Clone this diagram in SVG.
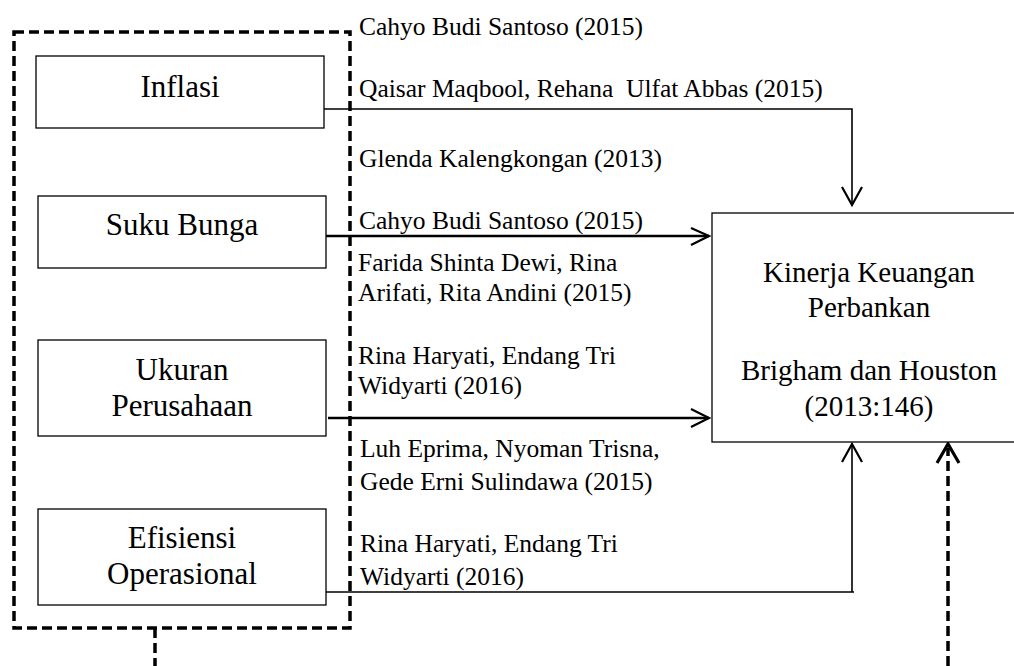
<svg xmlns="http://www.w3.org/2000/svg" width="1014" height="666" viewBox="0 0 1014 666">
<style>
  .box { fill: #fff; stroke: #000; stroke-width: 1.3; }
  .bt { font-family: "Liberation Serif", "Times New Roman", serif; font-size: 31px; fill: #000; text-anchor: middle; }
  .kt { font-family: "Liberation Serif", "Times New Roman", serif; font-size: 29px; fill: #000; text-anchor: middle; }
  .lt { font-family: "Liberation Serif", "Times New Roman", serif; font-size: 25.5px; fill: #000; white-space: pre; }
  .dash { fill: none; stroke: #000; stroke-width: 3.5; stroke-dasharray: 10 5; }
  .thin { fill: none; stroke: #000; stroke-width: 1.6; }
  .thick { fill: none; stroke: #000; stroke-width: 2.6; }
  .head { fill: none; stroke: #000; stroke-width: 2.2; stroke-linejoin: miter; }
</style>
<rect width="1014" height="666" fill="#fff"/>
<g id="group-box">
  <rect class="dash" x="14" y="32" width="336" height="596"/>
</g>
<g id="connectors">
  <!-- Inflasi -->
  <polyline class="thin" points="324,109 852,109 852,204"/>
  <polyline class="head" points="842,187 852,205 862,187"/>
  <!-- Suku Bunga -->
  <line class="thick" x1="326" y1="236" x2="709" y2="236"/>
  <polyline class="head" points="691,228 709,236 691,245"/>
  <!-- Ukuran -->
  <line class="thick" x1="328" y1="418" x2="709" y2="418"/>
  <polyline class="head" points="691,409 709,418 691,427"/>
  <!-- Efisiensi -->
  <polyline class="thin" points="326,592 854,592 852,592 852,444"/>
  <polyline class="head" points="842,462 852,444 862,462"/>
  <!-- group to bottom -->
  <line class="dash" x1="155" y1="628" x2="155" y2="666"/>
  <!-- dashed up arrow -->
  <line class="dash" x1="948" y1="666" x2="948" y2="448"/>
  <polyline fill="none" stroke="#000" stroke-width="3.2" points="937,463 948,444 959,463"/>
</g>
<g id="node-inflasi">
  <rect class="box" x="36" y="56" width="288" height="72"/>
  <text class="bt" x="180" y="97">Inflasi</text>
</g>
<g id="node-suku-bunga">
  <rect class="box" x="38" y="196" width="288" height="72"/>
  <text class="bt" x="182" y="235">Suku Bunga</text>
</g>
<g id="node-ukuran">
  <rect class="box" x="38" y="340" width="288" height="96"/>
  <text class="bt" x="182" y="380">Ukuran</text>
  <text class="bt" x="182" y="416">Perusahaan</text>
</g>
<g id="node-efisiensi">
  <rect class="box" x="38" y="509" width="288" height="96"/>
  <text class="bt" x="182" y="548">Efisiensi</text>
  <text class="bt" x="182" y="584">Operasional</text>
</g>
<g id="node-kinerja">
  <rect class="box" x="712" y="213" width="320" height="229"/>
  <text class="kt" x="869" y="282">Kinerja Keuangan</text>
  <text class="kt" x="869" y="317">Perbankan</text>
  <text class="kt" x="869" y="380">Brigham dan Houston</text>
  <text class="kt" x="869" y="416">(2013:146)</text>
</g>
<g id="labels">
  <text class="lt" x="359" y="35">Cahyo Budi Santoso (2015)</text>
  <text class="lt" x="359" y="97">Qaisar Maqbool, Rehana  Ulfat Abbas (2015)</text>
  <text class="lt" x="359" y="167">Glenda Kalengkongan (2013)</text>
  <text class="lt" x="359" y="229">Cahyo Budi Santoso (2015)</text>
  <text class="lt" x="358" y="271">Farida Shinta Dewi, Rina</text>
  <text class="lt" x="358" y="301">Arifati, Rita Andini (2015)</text>
  <text class="lt" x="358" y="364">Rina Haryati, Endang Tri</text>
  <text class="lt" x="358" y="394">Widyarti (2016)</text>
  <text class="lt" x="360" y="457">Luh Eprima, Nyoman Trisna,</text>
  <text class="lt" x="360" y="490">Gede Erni Sulindawa (2015)</text>
  <text class="lt" x="360" y="552">Rina Haryati, Endang Tri</text>
  <text class="lt" x="360" y="585">Widyarti (2016)</text>
</g>
</svg>
